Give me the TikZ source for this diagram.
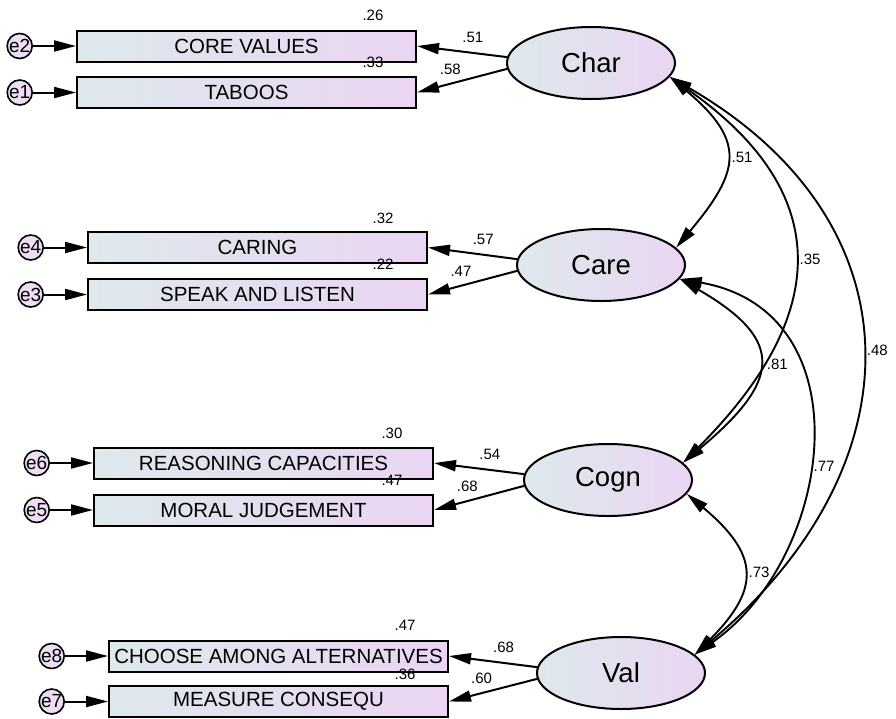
\documentclass[tikz,border=0pt]{standalone}
\usepackage{fontspec}
\setmainfont{Liberation Sans}
\usetikzlibrary{shapes.geometric,arrows.meta,positioning}
\definecolor{shadeL}{RGB}{222,233,236}
\definecolor{shadeR}{RGB}{234,213,242}
\tikzset{
  obs/.style={draw, line width=2pt, left color=shadeL, right color=shadeR,
    minimum width=339pt, minimum height=31pt, inner sep=0pt,
    font=\fontsize{20.5}{21}\selectfont},
  lat/.style={ellipse, draw, line width=2pt, left color=shadeL, right color=shadeR,
    minimum width=168pt, minimum height=72pt, inner sep=0pt,
    font=\fontsize{27.5}{28}\selectfont},
  err/.style={circle, draw, line width=1.6pt, fill=shadeR!80!white,
    minimum size=25pt, inner sep=0pt, font=\fontsize{19}{19}\selectfont},
  num/.style={inner sep=1pt, font=\fontsize{15}{15}\selectfont},
  tip/.style={-{Triangle[length=22pt,width=11pt]}, line width=2pt},
  cov/.style={{Triangle[length=22pt,width=11pt]}-{Triangle[length=22pt,width=11pt]}, line width=1.9pt}
}
\begin{document}
\begin{tikzpicture}[x=1pt, y=1pt]
  \useasboundingbox (0,0) rectangle (896,-718);
  \node[lat] (char) at (591,-63) {Char};
  \node[lat] (care) at (601,-265) {Care};
  \node[lat] (cogn) at (608,-480) {Cogn};
  \node[lat] (val) at (621,-673) {Val};

  \node[obs] (core) at (246.5,-46) {CORE VALUES};
  \node[obs] (taboo) at (246.5,-92.5) {TABOOS};
  \node[obs] (caring) at (257.5,-247.5) {CARING};
  \node[obs] (speak) at (257.5,-294.5) {SPEAK AND LISTEN};
  \node[obs] (reason) at (263.5,-463) {REASONING CAPACITIES};
  \node[obs] (moral) at (263.5,-510) {MORAL JUDGEMENT};
  \node[obs] (choose) at (278.5,-656) {CHOOSE AMONG ALTERNATIVES};
  \node[obs] (measure) at (278.5,-701.5) {MEASURE CONSEQU};

  \node[err, left=43pt of core] (e2) {e2};
  \node[err, left=43pt of taboo] (e1) {e1};
  \node[err, left=43pt of caring] (e4) {e4};
  \node[err, left=43pt of speak] (e3) {e3};
  \node[err, left=43pt of reason] (e6) {e6};
  \node[err, left=43pt of moral] (e5) {e5};
  \node[err, left=43pt of choose] (e8) {e8};
  \node[err, left=43pt of measure] (e7) {e7};

  \node[num] (r2core) at (373,-15) {.26};
  \node[num] (r2taboo) at (373,-62) {.33};
  \node[num] (r2caring) at (383,-218) {.32};
  \node[num] (r2speak) at (383,-264) {.22};
  \node[num] (r2reason) at (392,-433) {.30};
  \node[num] (r2moral) at (392,-480) {.47};
  \node[num] (r2choose) at (405,-625) {.47};
  \node[num] (r2measure) at (405,-674) {.36};

  \path[tip]
    (e2) edge (core) (e1) edge (taboo)
    (e4) edge (caring) (e3) edge (speak)
    (e6) edge (reason) (e5) edge (moral)
    (e8) edge (choose) (e7) edge (measure);
  \path[tip]
    (char.176) edge node[num, pos=.38, above=8pt] {.51} (core.east)
    (char.184) edge node[num, pos=.63, above=7pt] {.58} (taboo.east)
    (care.176) edge node[num, pos=.38, above=8pt] {.57} (caring.east)
    (care.184) edge node[num, pos=.63, above=7pt] {.47} (speak.east)
    (cogn.176) edge node[num, pos=.38, above=8pt] {.54} (reason.east)
    (cogn.184) edge node[num, pos=.63, above=7pt] {.68} (moral.east)
    (val.176) edge node[num, pos=.38, above=8pt] {.68} (choose.east)
    (val.184) edge node[num, pos=.63, above=7pt] {.60} (measure.east);
  \path[cov]
    (char.-10) edge[out=-40, in=50, distance=100pt] node[num, right=4pt] {.51} (care.13)
    (char.-10) edge[out=-35, in=45, distance=205pt] node[num, right=4pt] {.35} (cogn.13)
    (char.-10) edge[out=-30, in=40, distance=292pt] node[num, right=4pt] {.48} (val.14)
    (care.-10) edge[out=-30, in=40, distance=125pt] node[num, right=7pt] {.81} (cogn.13)
    (care.-10) edge[out=-10, in=35, out distance=190pt, in distance=170pt] node[num, pos=.55, right=4pt] {.77} (val.14)
    (cogn.-10) edge[out=-40, in=45, distance=94pt] node[num, right=4pt] {.73} (val.14);
\end{tikzpicture}
\end{document}
